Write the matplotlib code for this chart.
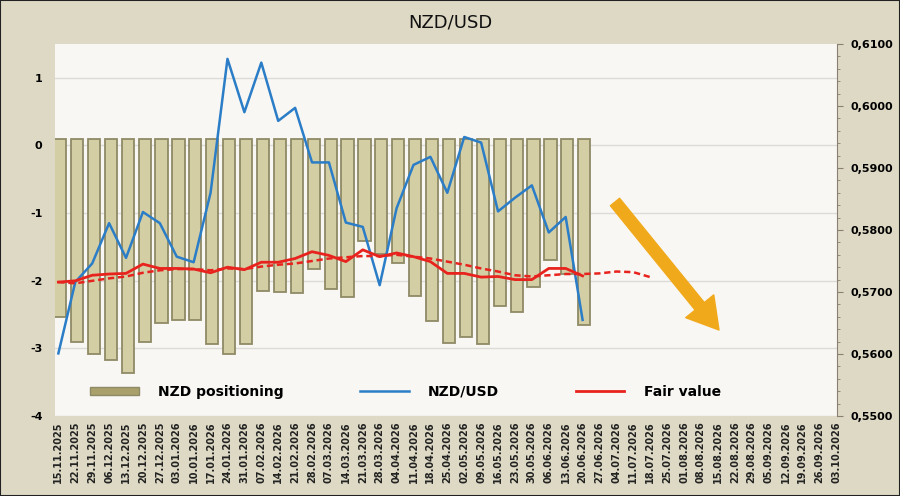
import matplotlib
matplotlib.use('Agg')
import matplotlib.pyplot as plt
from matplotlib.patches import Patch, Rectangle
from matplotlib.lines import Line2D
from matplotlib.ticker import FuncFormatter, MultipleLocator
import numpy as np
import pandas as pd

plt.rcParams['axes.unicode_minus'] = False

# weekly dates on the axis
dates = pd.date_range("2025-11-15", "2026-10-03", freq="7D")
date_labels = [d.strftime("%d.%m.%Y") for d in dates]

# NZD positioning (left axis, bars)
positioning = [-2.54, -2.91, -3.08, -3.17, -3.36, -2.90, -2.63, -2.58, -2.58, -2.94,
               -3.09, -2.94, -2.15, -2.17, -2.18, -1.82, -2.12, -2.24, -1.41, -1.60,
               -1.74, -2.22, -2.59, -2.92, -2.83, -2.94, -2.37, -2.46, -2.10, -1.70,
               -1.90, -2.65]

# NZD/USD spot (right axis)
nzdusd = [0.5601, 0.5716, 0.5746, 0.5811, 0.5755, 0.5829, 0.5811, 0.5757, 0.5748, 0.5860,
          0.6076, 0.5990, 0.6070, 0.5976, 0.5997, 0.5909, 0.5909, 0.5812, 0.5805, 0.5711,
          0.5835, 0.5905, 0.5918, 0.5860, 0.5950, 0.5941, 0.5830, 0.5852, 0.5872, 0.5796,
          0.5821, 0.5655]

# fair value (solid) and its smoothed projection (dashed)
fair_value = [0.5716, 0.5718, 0.5727, 0.5729, 0.5730, 0.5745, 0.5738, 0.5738, 0.5737, 0.5731,
              0.5740, 0.5736, 0.5748, 0.5748, 0.5754, 0.5765, 0.5759, 0.5749, 0.5768, 0.5757,
              0.5763, 0.5757, 0.5749, 0.5730, 0.5730, 0.5724, 0.5725, 0.5720, 0.5720, 0.5738,
              0.5738, 0.5726]
fair_trend = [0.5716, 0.5714, 0.5718, 0.5722, 0.5725, 0.5731, 0.5735, 0.5737, 0.5737, 0.5735,
              0.5738, 0.5737, 0.5741, 0.5744, 0.5746, 0.5750, 0.5754, 0.5756, 0.5758, 0.5758,
              0.5760, 0.5757, 0.5754, 0.5749, 0.5744, 0.5738, 0.5733, 0.5727, 0.5725, 0.5727,
              0.5729, 0.5729, 0.5730, 0.5733, 0.5732, 0.5724]

bg = "#ddd9c4"
fig = plt.figure(figsize=(9, 4.96), dpi=100, facecolor=bg)
fig.patches.append(Rectangle((0, 0), 1, 1, transform=fig.transFigure, fill=False,
                             edgecolor="#222222", linewidth=1.5))
ax = fig.add_axes([0.0611, 0.1613, 0.869, 0.75])
ax.set_facecolor("#f8f7f3")

x = np.arange(len(dates))
xb = np.arange(len(positioning))
ax.bar(xb + 0.1, np.array(positioning) - 0.1, bottom=0.1, width=0.72,
       color="#d4cea5", edgecolor="#8f8a66", linewidth=1.3, zorder=2)
ax.set_ylim(-4, 1.5)
ax.set_yticks([-4, -3, -2, -1, 0, 1])
ax.set_xlim(-0.2, len(dates) - 1 + 0.05)
ax.grid(axis="y", color="#dddbd5", linewidth=1, zorder=0)
ax.set_axisbelow(True)
for s in ax.spines.values():
    s.set_visible(False)
ax.tick_params(axis="y", length=0, pad=9, labelsize=8)
ax.set_xticks(x)
ax.set_xticklabels(date_labels, rotation=90, fontsize=7, fontweight="bold", color="#222222")
ax.tick_params(axis="x", length=0, pad=4)
for t in ax.get_yticklabels():
    t.set_fontweight("bold")

ax2 = ax.twinx()
ax2.plot(np.arange(len(nzdusd)), nzdusd, color="#2a7dc6", linewidth=1.8, zorder=4)
ax2.plot(np.arange(len(fair_value)), fair_value, color="#e8231e", linewidth=2, zorder=5)
ax2.plot(np.arange(len(fair_trend)), fair_trend, color="#e8231e", linewidth=1.8,
         linestyle=(0, (2.5, 1.5)), zorder=5)
ax2.set_ylim(0.55, 0.61)
ax2.yaxis.set_major_locator(MultipleLocator(0.01))
ax2.yaxis.set_minor_locator(MultipleLocator(0.002))
ax2.yaxis.set_major_formatter(FuncFormatter(lambda v, p: f"{v:.4f}".replace(".", ",")))
for s in ["top", "left", "bottom"]:
    ax2.spines[s].set_visible(False)
ax2.spines["right"].set_color("#8a7f72")
ax2.tick_params(axis="y", which="major", length=4, color="#8a7f72", labelsize=8, pad=6)
ax2.tick_params(axis="y", which="minor", length=2, color="#8a7f72")
for t in ax2.get_yticklabels():
    t.set_fontweight("bold")

fig.text(0.5, 0.955, "NZD/USD", ha="center", va="center", fontsize=13, color="#111111")

handles = [Patch(facecolor="#a9a06c", edgecolor="#8f8a66"),
           Line2D([], [], color="#2a7dc6", linewidth=1.8),
           Line2D([], [], color="#e8231e", linewidth=2)]
leg = ax.legend(handles, ["NZD positioning", "NZD/USD", "Fair value"], ncol=3,
                loc="center", bbox_to_anchor=(0.448, 0.065), frameon=False,
                handlelength=3.5, handleheight=0.45, handletextpad=1.4, columnspacing=5.5,
                prop={"weight": "bold", "size": 10})
leg.set_zorder(6)

ax2.annotate("", xy=(719, 166), xytext=(615, 294), xycoords="figure pixels",
             textcoords="figure pixels",
             arrowprops=dict(width=8.5, headwidth=26, headlength=22, color="#f1a91c",
                             shrink=0))

fig.savefig("out.png", dpi=100, facecolor=bg)
